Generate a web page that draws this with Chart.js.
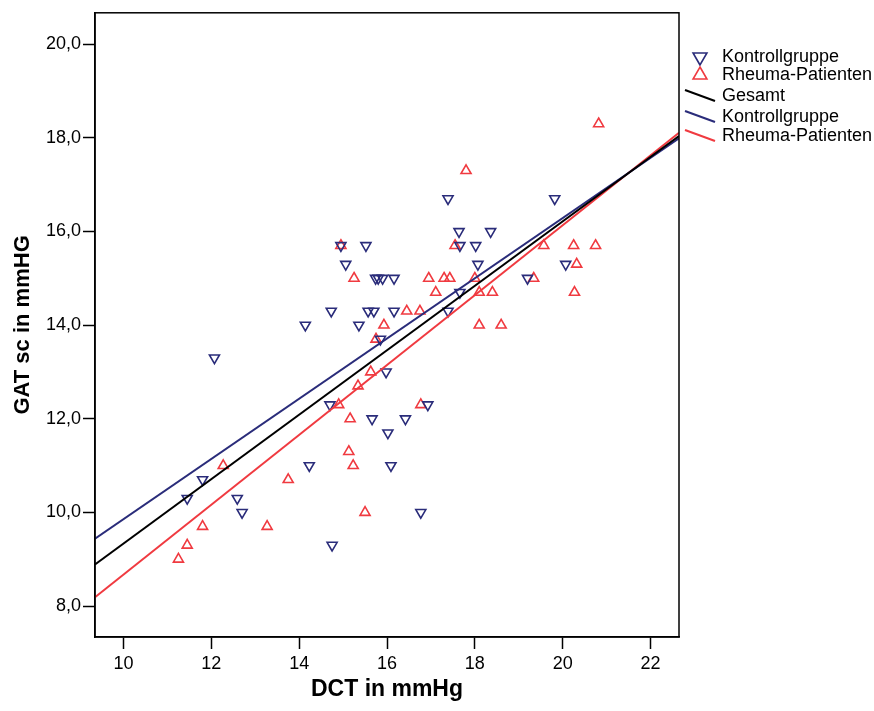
<!DOCTYPE html>
<html>
<head>
<meta charset="utf-8">
<script src="https://cdn.jsdelivr.net/npm/chart.js@4.4.1/dist/chart.umd.min.js"></script>
<style>
  html, body { margin: 0; padding: 0; background: #fff; }
  canvas { display: block; }
</style>
</head>
<body>
<canvas id="chart" width="874" height="711"></canvas>
<script>
// DCT vs. GAT per group
const kontrollDct = [11.45, 11.8, 12.07, 12.59, 12.7, 14.14, 14.23, 14.7, 14.73, 14.75, 14.95, 15.06, 15.36, 15.52, 15.57, 15.66, 15.7, 15.85, 15.74, 15.8, 15.9, 15.98, 16.02, 16.09, 16.16, 16.16, 16.42, 16.77, 16.93, 17.39, 17.39, 17.64, 17.66, 17.66, 18.02, 18.07, 18.36, 19.2, 19.82, 20.07];
const kontrollGat = [10.3, 10.7, 13.3, 10.3, 10.0, 14.0, 11.0, 12.3, 14.3, 9.3, 15.7, 15.3, 14.0, 15.7, 14.3, 12.0, 14.3, 13.7, 15.0, 15.0, 15.0, 13.0, 11.7, 11.0, 15.0, 14.3, 12.0, 10.0, 12.3, 16.7, 14.3, 16.0, 15.7, 14.7, 15.7, 15.3, 16.0, 15.0, 16.7, 15.3];
const rheumaDct = [11.25, 11.45, 11.8, 12.27, 13.27, 13.75, 14.9, 14.95, 15.13, 15.16, 15.23, 15.25, 15.34, 15.5, 15.63, 15.75, 15.93, 16.45, 16.75, 16.77, 16.95, 17.11, 17.3, 17.43, 17.55, 17.8, 18.0, 18.1, 18.1, 18.4, 18.6, 19.34, 19.57, 20.25, 20.27, 20.32, 20.75, 20.82];
const rheumaGat = [9.0, 9.3, 9.7, 11.0, 9.7, 10.7, 12.3, 15.7, 11.3, 12.0, 11.0, 15.0, 12.7, 10.0, 13.0, 13.7, 14.0, 14.3, 14.3, 12.3, 15.0, 14.7, 15.0, 15.0, 15.7, 17.3, 15.0, 14.7, 14.0, 14.7, 14.0, 15.0, 15.7, 15.7, 14.7, 15.3, 15.7, 18.3];

// regression lines, given at both ends of the x axis
const fitX = [9.35, 22.65];
const gesamtFit = [8.89, 18.04];
const kontrollFit = [9.44, 17.99];
const rheumaFit = [8.19, 18.11];

const NAVY = '#2a2c7a';
const RED = '#f03a40';
const FONT = "'Liberation Sans', Arial, sans-serif";

const toPoints = (xs, ys) => xs.map((x, i) => ({ x: x, y: ys[i] }));

const markerSet = (label, xs, ys, color, rotation) => ({
    label: label,
    data: toPoints(xs, ys),
    showLine: false,
    pointStyle: 'triangle',
    rotation: rotation,
    pointRadius: 5.8,
    pointHoverRadius: 5.8,
    pointBorderWidth: 1.6,
    borderColor: color,
    backgroundColor: 'rgba(0,0,0,0)',
    order: 2
});

const fitLine = (label, ys, color) => ({
    label: label,
    data: toPoints(fitX, ys),
    showLine: true,
    pointRadius: 0,
    borderWidth: 2,
    borderColor: color,
    backgroundColor: color,
    order: 1
});

// box around the plot area
const frame = {
    id: 'frame',
    afterDraw(chart) {
        const { ctx, chartArea: a } = chart;
        ctx.save();
        ctx.strokeStyle = '#000';
        ctx.lineWidth = 1.5;
        ctx.strokeRect(a.left, a.top, a.right - a.left, a.bottom - a.top);
        ctx.restore();
    }
};

// legend to the right of the plot
const sideLegend = {
    id: 'sideLegend',
    afterDraw(chart) {
        const ctx = chart.ctx;
        const rows = [57, 75, 96, 117, 136];
        ctx.save();
        ctx.font = '18px ' + FONT;
        ctx.textBaseline = 'middle';
        chart.data.datasets.forEach((ds, i) => {
            const y = rows[i];
            ctx.strokeStyle = ds.borderColor;
            if (ds.showLine) {
                ctx.lineWidth = 2;
                ctx.beginPath();
                ctx.moveTo(685, y - 6);
                ctx.lineTo(715, y + 5);
                ctx.stroke();
            } else {
                ctx.lineWidth = 1.6;
                ctx.fillStyle = 'rgba(0,0,0,0)';
                Chart.helpers.drawPoint(ctx, {
                    pointStyle: 'triangle',
                    rotation: ds.rotation,
                    radius: 8,
                    borderWidth: 1.6
                }, 700, y);
            }
            ctx.fillStyle = '#000';
            ctx.fillText(ds.label, 722, y);
        });
        ctx.restore();
    }
};

new Chart(document.getElementById('chart').getContext('2d'), {
    type: 'scatter',
    data: {
        datasets: [
            markerSet('Kontrollgruppe', kontrollDct, kontrollGat, NAVY, 180),
            markerSet('Rheuma-Patienten', rheumaDct, rheumaGat, RED, 0),
            fitLine('Gesamt', gesamtFit, '#000'),
            fitLine('Kontrollgruppe', kontrollFit, NAVY),
            fitLine('Rheuma-Patienten', rheumaFit, RED)
        ]
    },
    options: {
        responsive: false,
        animation: false,
        layout: { padding: { left: 0, top: 7, right: 195, bottom: 0 } },
        plugins: {
            legend: { display: false },
            tooltip: { enabled: false }
        },
        scales: {
            x: {
                type: 'linear',
                min: fitX[0],
                max: fitX[1],
                afterFit: s => { s.height = 74; },
                border: { display: true, color: '#000', width: 1.5 },
                grid: { drawOnChartArea: false, drawTicks: true, tickLength: 12, color: '#000', tickWidth: 1.5 },
                ticks: {
                    stepSize: 2,
                    includeBounds: false,
                    color: '#000',
                    padding: 4,
                    maxRotation: 0,
                    font: { family: FONT, size: 18 }
                },
                title: {
                    display: true,
                    text: 'DCT in mmHg',
                    color: '#000',
                    align: 'center',
                    padding: { top: 0, bottom: 8 },
                    font: { family: FONT, size: 23, weight: 'bold' }
                }
            },
            y: {
                type: 'linear',
                min: 7.34,
                max: 20.67,
                afterFit: s => { s.width = 95; },
                border: { display: true, color: '#000', width: 1.5 },
                grid: { drawOnChartArea: false, drawTicks: true, tickLength: 12, color: '#000', tickWidth: 1.5 },
                ticks: {
                    stepSize: 2,
                    includeBounds: false,
                    color: '#000',
                    padding: 2,
                    font: { family: FONT, size: 18 },
                    callback: v => v.toFixed(1).replace('.', ',')
                },
                title: {
                    display: true,
                    text: 'GAT sc in mmHG',
                    color: '#000',
                    padding: { top: 10, bottom: 0 },
                    font: { family: FONT, size: 22, weight: 'bold' }
                }
            }
        }
    },
    plugins: [frame, sideLegend]
});
</script>
</body>
</html>
